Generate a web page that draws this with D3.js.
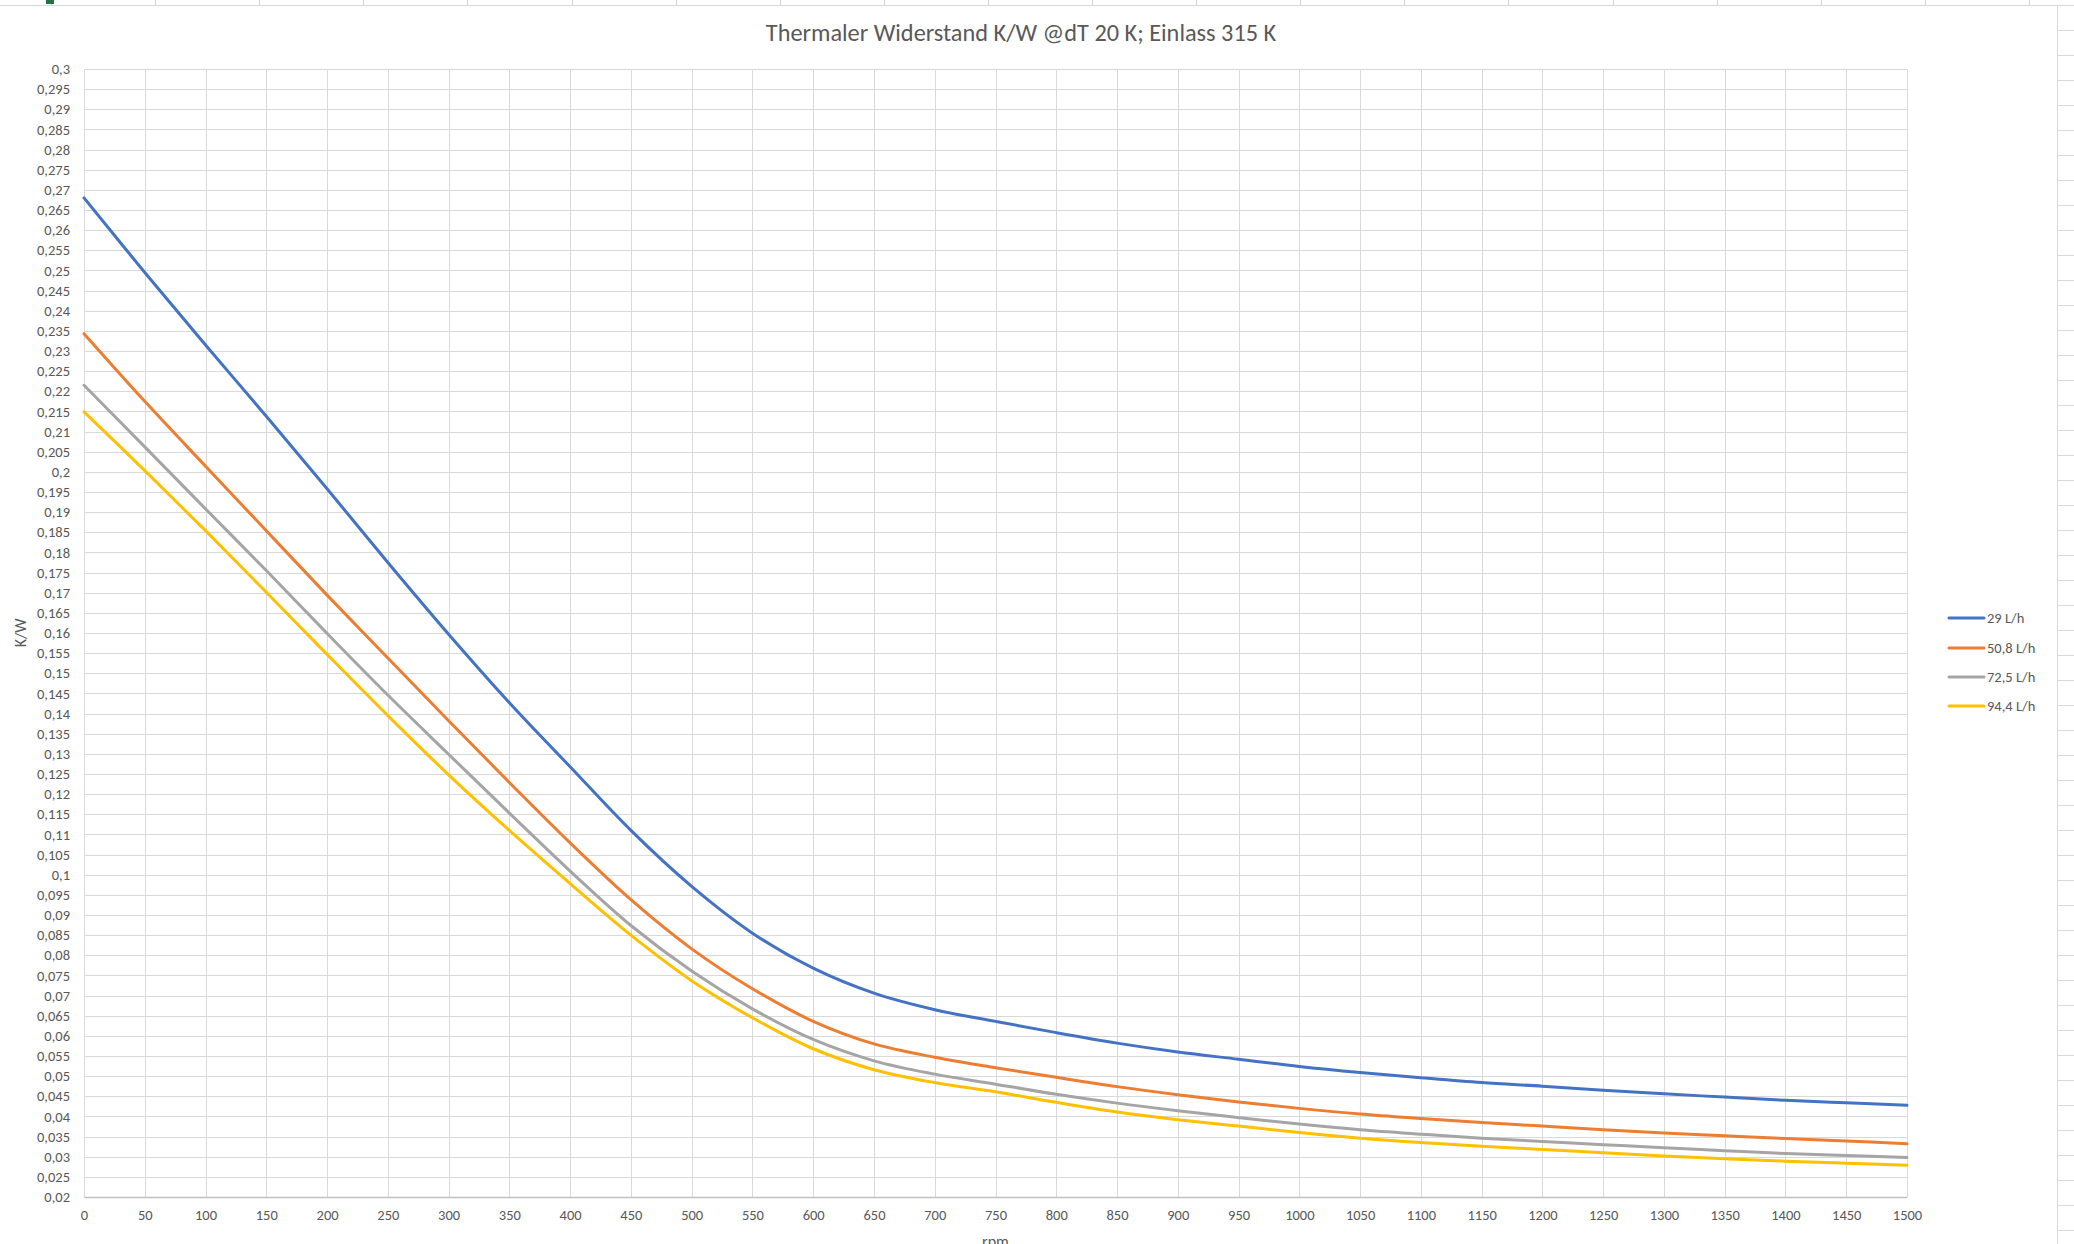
<!DOCTYPE html>
<html>
<head>
<meta charset="utf-8">
<script src="https://cdn.jsdelivr.net/npm/d3@7"></script>
<style>
  html, body { margin: 0; padding: 0; background: #ffffff; }
  svg { display: block; }
  text { font-family: Carlito, Calibri, Lato, "Open Sans", sans-serif; fill: #595959; }
</style>
</head>
<body>
<svg id="chart" width="2074" height="1244"></svg>
<script>
// ---------- data ----------
const title = "Thermaler Widerstand K/W @dT 20 K; Einlass 315 K";
const xTitle = "rpm";
const yTitle = "K/W";
const rpm = [0, 50, 100, 150, 200, 250, 300, 350, 400, 450, 500, 550, 600, 650, 700, 750,
             800, 850, 900, 950, 1000, 1050, 1100, 1150, 1200, 1250, 1300, 1350, 1400, 1450, 1500];
const seriesNames = ["29 L/h", "50,8 L/h", "72,5 L/h", "94,4 L/h"];
const s29 = [0.2680, 0.2495, 0.2315, 0.2138, 0.1958, 0.1775, 0.1597, 0.1427, 0.1268, 0.1110,
             0.0971, 0.0855, 0.0768, 0.0706, 0.0665, 0.0636, 0.0608, 0.0582, 0.0560, 0.0542,
             0.0524, 0.0509, 0.0496, 0.0484, 0.0475, 0.0465, 0.0456, 0.0448, 0.0440, 0.0434, 0.0428];
const s508 = [0.2343, 0.2175, 0.2014, 0.1854, 0.1694, 0.1538, 0.1382, 0.1229, 0.1079, 0.0938,
              0.0816, 0.0717, 0.0636, 0.0580, 0.0547, 0.0521, 0.0497, 0.0474, 0.0454, 0.0436,
              0.0420, 0.0406, 0.0395, 0.0385, 0.0376, 0.0367, 0.0359, 0.0352, 0.0345, 0.0339, 0.0332];
const s725 = [0.2215, 0.2062, 0.1908, 0.1755, 0.1599, 0.1446, 0.1299, 0.1153, 0.1009, 0.0874,
              0.0761, 0.0667, 0.0591, 0.0538, 0.0505, 0.0480, 0.0455, 0.0433, 0.0414, 0.0397,
              0.0381, 0.0367, 0.0356, 0.0346, 0.0338, 0.0330, 0.0322, 0.0315, 0.0308, 0.0303, 0.0298];
const s944 = [0.2149, 0.2003, 0.1854, 0.1701, 0.1547, 0.1395, 0.1248, 0.1110, 0.0978, 0.0850,
              0.0737, 0.0645, 0.0568, 0.0516, 0.0484, 0.0461, 0.0435, 0.0411, 0.0392, 0.0376,
              0.0360, 0.0346, 0.0335, 0.0326, 0.0318, 0.0310, 0.0302, 0.0295, 0.0289, 0.0284, 0.0279];
const xTicks = [0, 50, 100, 150, 200, 250, 300, 350, 400, 450, 500, 550, 600, 650, 700, 750,
                800, 850, 900, 950, 1000, 1050, 1100, 1150, 1200, 1250, 1300, 1350, 1400, 1450, 1500];
const yTicks = d3.range(0, 57).map(i => +(0.02 + i * 0.005).toFixed(3));
const colors = ["#4472C4", "#ED7D31", "#A5A5A5", "#FFC000"];

// ---------- layout ----------
const svg = d3.select("#chart");
const W = 2074, H = 1244;
const plot = { left: 84, right: 1907, top: 69, bottom: 1197 };
const chartRight = 2057, chartTop = 5.5;

// spreadsheet background (behind chart object)
const sheet = svg.append("g");
for (let k = 0; k < 21; k++) {
  const cx = Math.round(51 + k * 104.1) + 0.5;
  sheet.append("line").attr("x1", cx).attr("x2", cx).attr("y1", 0).attr("y2", chartTop)
    .attr("stroke", "#D4D4D4").attr("stroke-width", 1);
}
for (let ry = 5.5; ry < H; ry += 25) {
  sheet.append("line").attr("x1", chartRight).attr("x2", W).attr("y1", ry).attr("y2", ry)
    .attr("stroke", "#DADADA").attr("stroke-width", 1);
}
sheet.append("rect").attr("x", 46).attr("y", 0).attr("width", 8).attr("height", 4).attr("fill", "#217346");

// chart area
svg.append("rect").attr("x", -2).attr("y", chartTop).attr("width", chartRight + 2.5).attr("height", H + 10)
  .attr("fill", "#ffffff").attr("stroke", "#D9D9D9").attr("stroke-width", 1);

const x = d3.scaleLinear().domain([0, 1500]).range([plot.left, plot.right]);
const y = d3.scaleLinear().domain([0.02, 0.3]).range([plot.bottom, plot.top]);
const fmt = v => String(+v.toFixed(3)).replace(".", ",");

// gridlines
const grid = svg.append("g");
grid.selectAll("line.h").data(yTicks).join("line")
  .attr("x1", plot.left).attr("x2", plot.right)
  .attr("y1", d => Math.round(y(d)) + 0.5).attr("y2", d => Math.round(y(d)) + 0.5)
  .attr("stroke", "#D9D9D9").attr("stroke-width", 1);
grid.selectAll("line.v").data(xTicks).join("line")
  .attr("x1", d => Math.round(x(d)) + 0.5).attr("x2", d => Math.round(x(d)) + 0.5)
  .attr("y1", plot.top).attr("y2", plot.bottom)
  .attr("stroke", "#D9D9D9").attr("stroke-width", 1);

// axes
const yAxis = d3.axisLeft(y).tickValues(yTicks).tickFormat(fmt).tickSize(0).tickPadding(14);
const gy = svg.append("g").attr("transform", `translate(${plot.left},0)`).call(yAxis);
gy.select(".domain").remove();
gy.selectAll("text").attr("font-size", 14.5).attr("fill", "#595959")
  .style("font-family", "Carlito, Calibri, Lato, sans-serif");

const xAxis = d3.axisBottom(x).tickValues(xTicks).tickFormat(d => String(d)).tickSize(0).tickPadding(13);
const gx = svg.append("g").attr("transform", `translate(0,${plot.bottom})`).call(xAxis);
gx.select(".domain").attr("stroke", "#BFBFBF").attr("stroke-width", 1.3);
gx.selectAll("text").attr("font-size", 14.5).attr("fill", "#595959")
  .style("font-family", "Carlito, Calibri, Lato, sans-serif");

// lines
const allSeries = [s29, s508, s725, s944];
const line = d3.line().x((d, i) => x(rpm[i])).y(d => y(d)).curve(d3.curveCatmullRom.alpha(0.5));
svg.append("g").selectAll("path").data(allSeries).join("path")
  .attr("d", d => line(d))
  .attr("fill", "none")
  .attr("stroke", (d, i) => colors[i])
  .attr("stroke-width", 3)
  .attr("stroke-linejoin", "round")
  .attr("stroke-linecap", "round");

// title
svg.append("text").attr("x", 1021).attr("y", 41).attr("text-anchor", "middle")
  .attr("font-size", 24.3).text(title);

// axis titles
svg.append("text").attr("x", (plot.left + plot.right) / 2).attr("y", 1247).attr("text-anchor", "middle")
  .attr("font-size", 16).text(xTitle);
svg.append("text").attr("transform", `translate(26,${(plot.top + plot.bottom) / 2}) rotate(-90)`)
  .attr("text-anchor", "middle").attr("font-size", 16).text(yTitle);

// legend
const legendRows = [618, 648, 677, 706];
const lg = svg.append("g");
seriesNames.forEach((name, i) => {
  lg.append("line").attr("x1", 1949).attr("x2", 1984).attr("y1", legendRows[i]).attr("y2", legendRows[i])
    .attr("stroke", colors[i]).attr("stroke-width", 3).attr("stroke-linecap", "round");
  lg.append("text").attr("x", 1987).attr("y", legendRows[i]).attr("dy", "0.35em")
    .attr("font-size", 14.5).text(name);
});
</script>
</body>
</html>
